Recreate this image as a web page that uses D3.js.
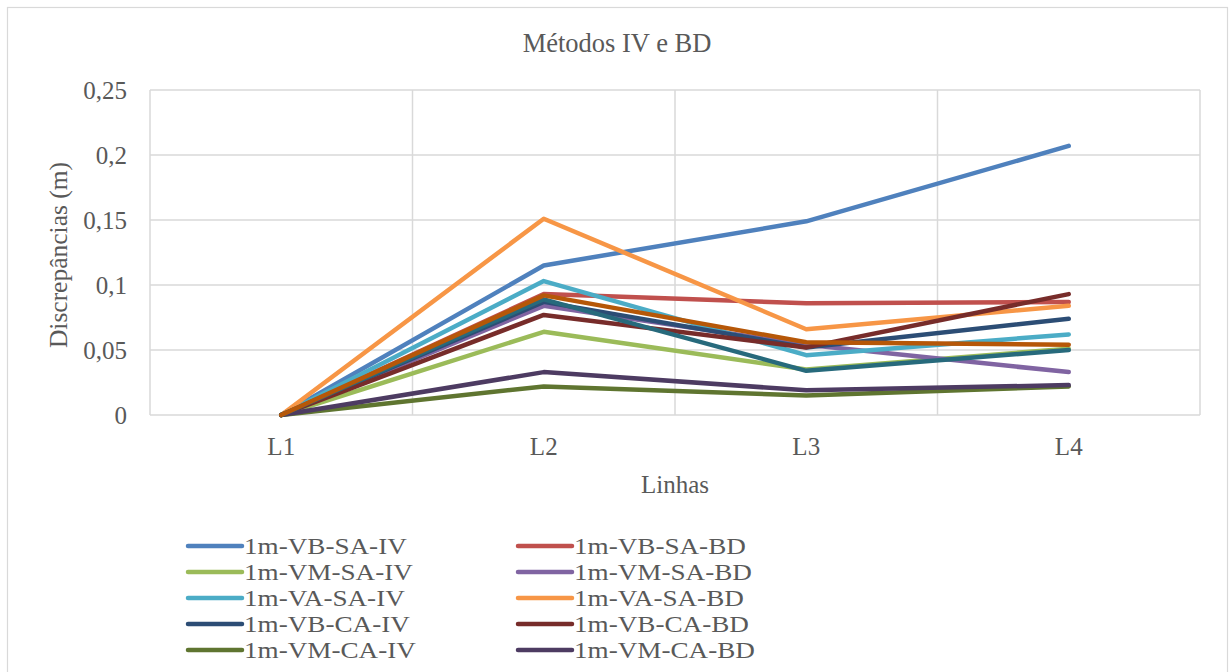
<!DOCTYPE html>
<html>
<head>
<meta charset="utf-8">
<script src="https://cdn.jsdelivr.net/npm/d3@7"></script>
<style>
  html, body { margin: 0; padding: 0; background: #fff; overflow: hidden; }
</style>
</head>
<body>
<script>
const categories = ["L1", "L2", "L3", "L4"];
const yTicks = [0, 0.05, 0.1, 0.15, 0.2, 0.25];

const seriesNames = [
  "1m-VB-SA-IV", "1m-VB-SA-BD",
  "1m-VM-SA-IV", "1m-VM-SA-BD",
  "1m-VA-SA-IV", "1m-VA-SA-BD",
  "1m-VB-CA-IV", "1m-VB-CA-BD",
  "1m-VM-CA-IV", "1m-VM-CA-BD",
  "1m-VA-CA-IV", "1m-VA-CA-BD"
];
const seriesColors = [
  "#4F81BD", "#C0504D", "#9BBB59", "#8064A2", "#4BACC6", "#F79646",
  "#2C4D75", "#772C2A", "#5F7530", "#4D3B62", "#276A7C", "#B65708"
];
const vbSaIv = [0, 0.115, 0.149, 0.207];
const vbSaBd = [0, 0.093, 0.086, 0.087];
const vmSaIv = [0, 0.064, 0.035, 0.051];
const vmSaBd = [0, 0.084, 0.054, 0.033];
const vaSaIv = [0, 0.103, 0.046, 0.062];
const vaSaBd = [0, 0.151, 0.066, 0.084];
const vbCaIv = [0, 0.087, 0.052, 0.074];
const vbCaBd = [0, 0.077, 0.052, 0.093];
const vmCaIv = [0, 0.022, 0.015, 0.022];
const vmCaBd = [0, 0.033, 0.019, 0.023];
const vaCaIv = [0, 0.089, 0.034, 0.050];
const vaCaBd = [0, 0.092, 0.056, 0.054];
const seriesValues = [vbSaIv, vbSaBd, vmSaIv, vmSaBd, vaSaIv, vaSaBd,
                      vbCaIv, vbCaBd, vmCaIv, vmCaBd, vaCaIv, vaCaBd];

// the picture is cut at the bottom: only the first five legend rows show
const legendShown = 10;

const width = 1229, height = 672;
const plot = {left: 150, right: 1200, top: 90, bottom: 415};
const fmt = d => String(d).replace(".", ",");

const svg = d3.select("body").append("svg")
  .attr("width", width)
  .attr("height", height)
  .attr("font-family", "'Liberation Serif', Tinos, 'Times New Roman', 'DejaVu Serif', serif")
  .attr("fill", "#595959");

// outer chart border
svg.append("rect")
  .attr("x", 7.5).attr("y", 7.5)
  .attr("width", 1220).attr("height", 700)
  .attr("fill", "#fff")
  .attr("stroke", "#d9d9d9")
  .attr("stroke-width", 1.2);

const x = d3.scaleBand().domain(categories).range([plot.left, plot.right]);
const y = d3.scaleLinear().domain([0, 0.25]).range([plot.bottom, plot.top]);

// gridlines
const grid = svg.append("g").attr("stroke", "#d9d9d9").attr("stroke-width", 1.5);
grid.selectAll(".h").data(yTicks).join("line")
  .attr("x1", plot.left).attr("x2", plot.right)
  .attr("y1", d => y(d)).attr("y2", d => y(d));
const xEdges = categories.map(c => x(c)).concat([x(categories[3]) + x.bandwidth()]);
grid.selectAll(".v").data(xEdges).join("line")
  .attr("x1", d => d).attr("x2", d => d)
  .attr("y1", plot.top).attr("y2", plot.bottom);

// y tick labels
svg.append("g").selectAll("text").data(yTicks).join("text")
  .attr("x", 127)
  .attr("y", d => y(d))
  .attr("dy", "0.35em")
  .attr("text-anchor", "end")
  .attr("font-size", 25)
  .text(fmt);

// x tick labels
svg.append("g").selectAll("text").data(categories).join("text")
  .attr("x", d => x(d) + x.bandwidth() / 2)
  .attr("y", 455)
  .attr("text-anchor", "middle")
  .attr("font-size", 25)
  .text(d => d);

// titles
svg.append("text")
  .attr("x", 617).attr("y", 52)
  .attr("text-anchor", "middle")
  .attr("font-size", 26.5)
  .text("Métodos IV e BD");

svg.append("text")
  .attr("x", 675).attr("y", 493)
  .attr("text-anchor", "middle")
  .attr("font-size", 25)
  .text("Linhas");

svg.append("text")
  .attr("transform", "translate(67,255) rotate(-90)")
  .attr("text-anchor", "middle")
  .attr("font-size", 25.5)
  .text("Discrepâncias (m)");

// lines
const line = d3.line()
  .x((d, i) => x(categories[i]) + x.bandwidth() / 2)
  .y(d => y(d));

svg.append("g").selectAll("path").data(seriesValues).join("path")
  .attr("d", line)
  .attr("fill", "none")
  .attr("stroke", (d, i) => seriesColors[i])
  .attr("stroke-width", 4.5)
  .attr("stroke-linecap", "round")
  .attr("stroke-linejoin", "round");

// legend, two columns; rows are tight, so the text is a bit wide and short
const legend = svg.append("g").selectAll("g").data(seriesNames.slice(0, legendShown)).join("g")
  .attr("transform", (d, i) => `translate(${i % 2 === 0 ? 188 : 518},${546 + Math.floor(i / 2) * 26})`);
legend.append("line")
  .attr("x1", 0).attr("x2", 54)
  .attr("stroke", (d, i) => seriesColors[i])
  .attr("stroke-width", 4.5)
  .attr("stroke-linecap", "round");
legend.append("text")
  .attr("x", 56)
  .attr("dy", "0.36em")
  .attr("font-size", 23.4)
  .text(d => d)
  .each(function() {
    const w = this.getComputedTextLength();
    d3.select(this)
      .attr("textLength", w * 1.16)
      .attr("lengthAdjust", "spacingAndGlyphs");
  });
</script>
</body>
</html>
